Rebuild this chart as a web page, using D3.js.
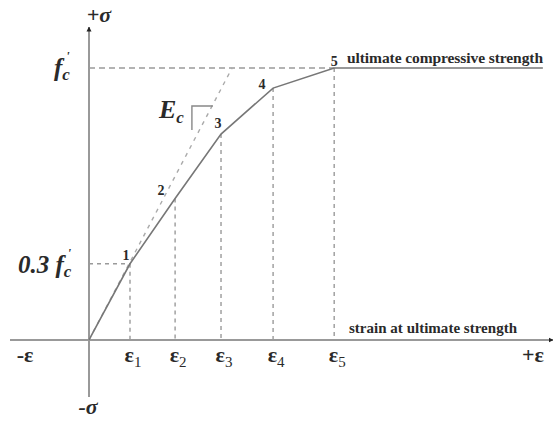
<!DOCTYPE html>
<html>
<head>
<meta charset="utf-8">
<script src="https://cdnjs.cloudflare.com/ajax/libs/d3/7.8.5/d3.min.js"></script>
<style>
    body { margin: 0; background: white; }
    text { font-family: "Liberation Serif", "Times New Roman", serif; fill: #2a2a2a; }
</style>
</head>
<body>
<div class="visHolder"></div>
<script>
// points on the curve (strain in units, stress as fraction of f'c)
const pointLabels = ["1", "2", "3", "4", "5"];
const strainValues = [1, 2.1, 3.22, 4.49, 5.98];
const stressValues = [0.28, 0.52, 0.757, 0.926, 1.0];
const strainTickLabels = ["1", "2", "3", "4", "5"];
const plateauEnd = 11.07;
const tangentTop = [3.49, 1.0];
const slopeMark = [[2.51, 0.772], [2.51, 0.86], [3.02, 0.86]];

document.addEventListener("DOMContentLoaded", () => {
    const fullWidth = 553;
    const fullHeight = 421;

    const xScale = d3.scaleLinear()
        .domain([-2, 11.2])
        .range([7, 548.2]);
    const yScale = d3.scaleLinear()
        .domain([-0.21, 1.147])
        .range([397, 28]);

    const svg = d3.select(".visHolder")
        .append("svg")
        .attr("width", fullWidth)
        .attr("height", fullHeight);

    const defs = svg.append("defs");
    defs.append("marker")
        .attr("id", "arrow")
        .attr("viewBox", "0 0 10 10")
        .attr("refX", 9)
        .attr("refY", 5)
        .attr("markerWidth", 5)
        .attr("markerHeight", 6)
        .attr("markerUnits", "userSpaceOnUse")
        .attr("orient", "auto")
        .append("path")
        .attr("d", "M0,0 L10,5 L0,10 z")
        .attr("fill", "#222");

    const x0 = xScale(0);
    const y0 = yScale(0);

    // axes
    svg.append("line")
        .attr("x1", 10).attr("y1", y0)
        .attr("x2", 553).attr("y2", y0)
        .attr("stroke", "#999")
        .attr("stroke-width", 2)
        .attr("marker-end", "url(#arrow)");
    svg.append("line")
        .attr("x1", x0).attr("y1", yScale(-0.21))
        .attr("x2", x0).attr("y2", 27)
        .attr("stroke", "#999")
        .attr("stroke-width", 2)
        .attr("marker-end", "url(#arrow)");

    const dash = "4,4";
    const dashColor = "#9a9a9a";

    // dashed guides
    svg.selectAll(".vguide")
        .data(strainValues)
        .enter()
        .append("line")
        .attr("class", "vguide")
        .attr("x1", d => xScale(d)).attr("x2", d => xScale(d))
        .attr("y1", (d, i) => yScale(stressValues[i]))
        .attr("y2", y0)
        .attr("stroke", dashColor)
        .attr("stroke-width", 1.4)
        .attr("stroke-dasharray", dash);
    svg.append("line")
        .attr("x1", x0).attr("x2", xScale(strainValues[4]))
        .attr("y1", yScale(1)).attr("y2", yScale(1))
        .attr("stroke", dashColor)
        .attr("stroke-width", 1.4)
        .attr("stroke-dasharray", "6,4");
    svg.append("line")
        .attr("x1", x0).attr("x2", xScale(strainValues[0]))
        .attr("y1", yScale(stressValues[0])).attr("y2", yScale(stressValues[0]))
        .attr("stroke", dashColor)
        .attr("stroke-width", 1.4)
        .attr("stroke-dasharray", dash);

    // tangent (Ec)
    svg.append("line")
        .attr("x1", x0).attr("y1", y0)
        .attr("x2", xScale(tangentTop[0])).attr("y2", yScale(tangentTop[1]))
        .attr("stroke", "#aaa")
        .attr("stroke-width", 1.4)
        .attr("stroke-dasharray", "4,5");

    const line = d3.line()
        .x(d => xScale(d[0]))
        .y(d => yScale(d[1]));

    svg.append("path")
        .attr("d", line(slopeMark))
        .attr("fill", "none")
        .attr("stroke", "#888")
        .attr("stroke-width", 1.4);

    // stress-strain curve
    const curve = [[0, 0]].concat(strainValues.map((d, i) => [d, stressValues[i]]));
    curve.push([plateauEnd, 1.0]);
    svg.append("path")
        .attr("d", line(curve))
        .attr("fill", "none")
        .attr("stroke", "#777")
        .attr("stroke-width", 1.6);

    // point numbers
    const offsets = [[-4, -4], [-14, -3], [-3, -6], [-11, 1], [0, -2]];
    svg.selectAll(".plabel")
        .data(pointLabels)
        .enter()
        .append("text")
        .attr("class", "plabel")
        .attr("x", (d, i) => xScale(strainValues[i]) + offsets[i][0])
        .attr("y", (d, i) => yScale(stressValues[i]) + offsets[i][1])
        .attr("text-anchor", "middle")
        .style("font-size", "14px")
        .style("font-weight", "bold")
        .text(d => d);

    // strain ticks
    const ticks = svg.selectAll(".tick")
        .data(strainTickLabels)
        .enter()
        .append("text")
        .attr("class", "tick")
        .attr("x", (d, i) => xScale(strainValues[i]) + 3)
        .attr("y", 362)
        .attr("text-anchor", "middle")
        .style("font-size", "22px")
        .style("font-weight", "bold");
    ticks.append("tspan").text("ε");
    ticks.append("tspan")
        .attr("dy", 5)
        .style("font-size", "15px")
        .style("font-weight", "normal")
        .text(d => d);

    const big = (x, y, s) => svg.append("text")
        .attr("x", x).attr("y", y)
        .attr("text-anchor", "middle")
        .style("font-size", "22px")
        .style("font-weight", "bold")
        .text(s);
    big(25, 362, "-ε");
    big(533, 362, "+ε");
    big(99, 22, "+σ").style("font-style", "italic");
    big(88, 414, "-σ").style("font-style", "italic");

    // stress labels
    const fc = svg.append("text")
        .attr("x", 54).attr("y", 76)
        .style("font-size", "25px")
        .style("font-style", "italic")
        .style("font-weight", "bold");
    fc.append("tspan").text("f");
    fc.append("tspan").attr("dy", 4).style("font-size", "17px").text("c");
    fc.append("tspan").attr("dy", -20).attr("dx", -4).style("font-size", "13px").text("'");

    const fc3 = svg.append("text")
        .attr("x", 18).attr("y", 273)
        .style("font-size", "25px")
        .style("font-style", "italic")
        .style("font-weight", "bold");
    fc3.append("tspan").text("0.3 f");
    fc3.append("tspan").attr("dy", 4).style("font-size", "17px").text("c");
    fc3.append("tspan").attr("dy", -20).attr("dx", -4).style("font-size", "13px").text("'");

    const ec = svg.append("text")
        .attr("x", 159).attr("y", 118)
        .style("font-size", "26px")
        .style("font-style", "italic")
        .style("font-weight", "bold");
    ec.append("tspan").text("E");
    ec.append("tspan").attr("dy", 5).style("font-size", "17px").text("c");

    svg.append("text")
        .attr("x", 347).attr("y", 63)
        .style("font-size", "15.5px")
        .style("font-weight", "bold")
        .attr("textLength", 196)
        .text("ultimate compressive strength");
    svg.append("text")
        .attr("x", 349).attr("y", 333)
        .style("font-size", "15px")
        .style("font-weight", "bold")
        .attr("textLength", 168)
        .text("strain at ultimate strength");
});
</script>
</body>
</html>
